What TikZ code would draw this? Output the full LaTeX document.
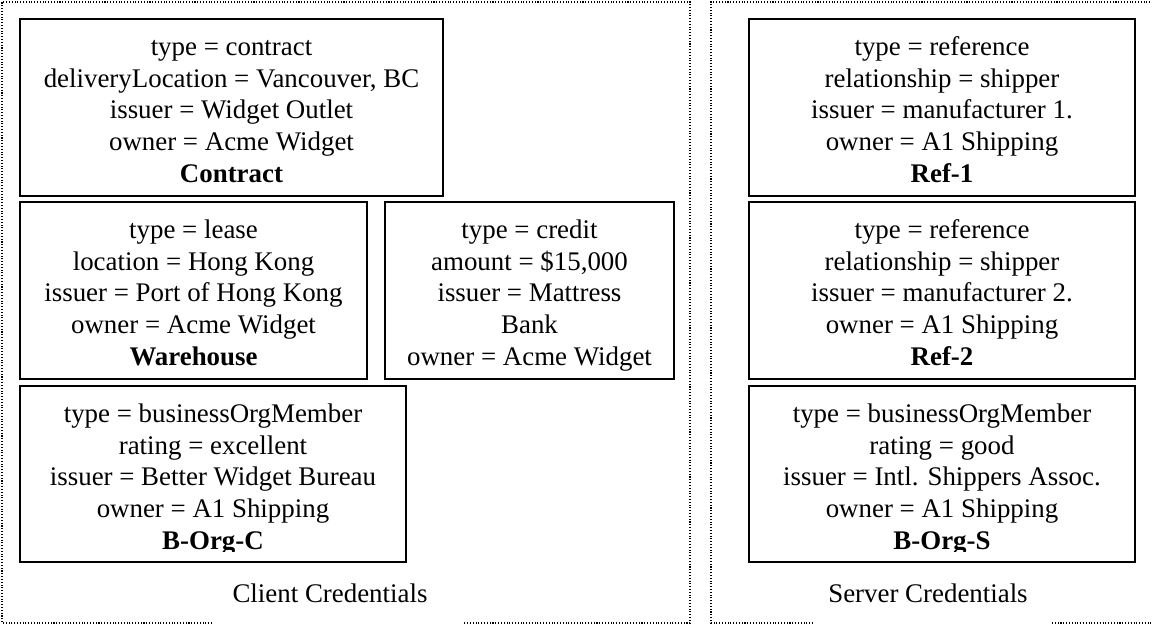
\documentclass[tikz,border=0pt]{standalone}
\usepackage{fontspec}
\setmainfont{Liberation Serif}

\tikzset{
  panel/.style={densely dotted, line width=0.6pt},
  credframe/.style={draw, line width=1pt},
  credtext/.style={anchor=north, inner sep=0pt, align=center,
    font=\fontsize{15.3}{18}\selectfont},
  panellabel/.style={anchor=base, inner sep=0pt,
    font=\fontsize{15.3}{18}\selectfont}
}

% name, left, top, right, bottom, clip bottom, text
\newcommand{\credbox}[7]{%
  \begin{scope}
    \clip (#2,#3) rectangle (#4,#6);
    \node[credtext] (#1) at ({(#2+#4)/2},{#3-0.28}) {\strut #7};
  \end{scope}
  \draw[credframe] (#2,#3) rectangle (#4,#5);
}

\begin{document}
\begin{tikzpicture}
  \useasboundingbox (0,0) rectangle (23.04,12.5);

  % client side
  \draw[panel] (4.24,0.04) -- (0.04,0.04) -- (0.04,12.46) -- (13.8,12.46) -- (13.8,0.04) -- (9.26,0.04);
  \credbox{contract}{0.4}{12.12}{8.86}{8.58}{8.64}{type = contract\\deliveryLocation = Vancouver, BC\\issuer = Widget Outlet\\owner = Acme Widget\\\textbf{Contract}}
  \credbox{warehouse}{0.4}{8.46}{7.34}{4.92}{4.98}{type = lease\\location = Hong Kong\\issuer = Port of Hong Kong\\owner = Acme Widget\\\textbf{Warehouse}}
  \credbox{credit}{7.7}{8.46}{13.48}{4.92}{4.98}{type = credit\\amount = \$15,000\\issuer = Mattress\\Bank\\owner = Acme Widget}
  \credbox{borgc}{0.4}{4.78}{8.12}{1.26}{1.46}{type = businessOrgMember\\rating = excellent\\issuer = Better Widget Bureau\\owner = A1 Shipping\\\textbf{B-Org-C}}
  \node[panellabel] (client) at (6.6,0.44) {Client Credentials};

  % server side
  \draw[panel] (16.26,0.04) -- (14.22,0.04) -- (14.22,12.46) -- (23.04,12.46);
  \draw[panel] (21.04,0.04) -- (23.04,0.04);
  \credbox{ref1}{14.98}{12.12}{22.7}{8.58}{8.64}{type = reference\\relationship = shipper\\issuer = manufacturer 1.\\owner = A1 Shipping\\\textbf{Ref-1}}
  \credbox{ref2}{14.98}{8.46}{22.7}{4.92}{4.98}{type = reference\\relationship = shipper\\issuer = manufacturer 2.\\owner = A1 Shipping\\\textbf{Ref-2}}
  \credbox{borgs}{14.98}{4.78}{22.7}{1.26}{1.46}{type = businessOrgMember\\rating = good\\issuer = Intl. Shippers Assoc.\\owner = A1 Shipping\\\textbf{B-Org-S}}
  \node[panellabel] (server) at (18.56,0.44) {Server Credentials};
\end{tikzpicture}
\end{document}
